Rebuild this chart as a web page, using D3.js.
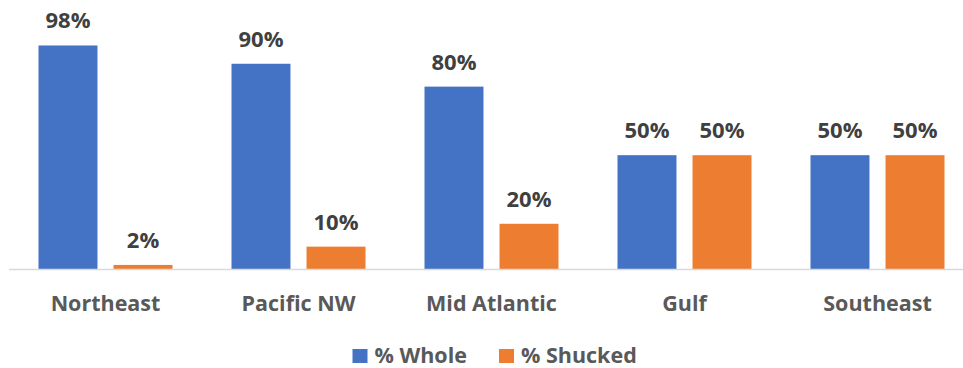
<!DOCTYPE html>
<html lang="en">
<head>
<meta charset="UTF-8">
<title>Whole vs Shucked by Region</title>
<style>
    body{ margin:0; background:#fff; }
    svg{ display:block; }
    .val{ font-family: "Open Sans", Lato, sans-serif; font-weight:bold; font-size:22px; fill:#404040; }
    .cat text{ font-family: "Open Sans", Lato, sans-serif; font-weight:bold; font-size:21.5px; fill:#595959; }
    .legend text{ font-family: "Open Sans", Lato, sans-serif; font-weight:bold; font-size:21.5px; fill:#595959; }
</style>
<script src="https://cdn.jsdelivr.net/npm/d3@7"></script>
</head>
<body>
<script>
    const regions = ["Northeast", "Pacific NW", "Mid Atlantic", "Gulf", "Southeast"];
    const seriesNames = ["% Whole", "% Shucked"];
    const whole = [98, 90, 80, 50, 50];
    const shucked = [2, 10, 20, 50, 50];
    const colors = ["#4472C4", "#ED7D31"];

    const width = 963, height = 368;
    const baseY = 269.5;

    const svg = d3.select("body").append("svg")
        .attr("width", width).attr("height", height);

    const x = d3.scaleBand().domain(regions).range([9, 974]).paddingInner(0).paddingOuter(0);
    const xs = d3.scaleBand().domain(seriesNames).range([29.5, x.bandwidth() - 29.5]).paddingInner(0.214);
    const y = d3.scaleLinear().domain([0, 100]).range([baseY, baseY - 228.6]);

    const rows = regions.map((r, i) => ({region: r, vals: [whole[i], shucked[i]]}));

    const groups = svg.selectAll("g.grp")
        .data(rows)
        .enter().append("g")
        .attr("class", "grp")
        .attr("transform", d => `translate(${x(d.region)},0)`);

    groups.selectAll("rect")
        .data(d => d.vals.map((v, j) => ({name: seriesNames[j], v, j})))
        .enter().append("rect")
        .attr("x", d => xs(d.name))
        .attr("width", xs.bandwidth())
        .attr("y", d => y(d.v))
        .attr("height", d => y(0) - y(d.v))
        .attr("fill", d => colors[d.j]);

    groups.selectAll("text.val")
        .data(d => d.vals.map((v, j) => ({name: seriesNames[j], v, j})))
        .enter().append("text")
        .attr("class", "val")
        .attr("x", d => xs(d.name) + xs.bandwidth() / 2)
        .attr("y", d => y(d.v) - 17)
        .attr("text-anchor", "middle")
        .text(d => d.v + "%");

    // baseline
    svg.append("line")
        .attr("x1", 9).attr("x2", width)
        .attr("y1", baseY).attr("y2", baseY)
        .attr("stroke", "#d9d9d9").attr("stroke-width", 1.5);

    // category axis
    const xAxis = d3.axisBottom(x).tickSize(0).tickPadding(0);
    svg.append("g")
        .attr("class", "cat")
        .attr("transform", "translate(0,296)")
        .call(xAxis)
        .call(g => g.select(".domain").remove())
        .selectAll("text").attr("dy", "0.71em");

    // legend
    const legendX = [352.5, 499];
    const legend = svg.append("g").attr("class", "legend")
        .selectAll("g")
        .data(seriesNames)
        .enter().append("g")
        .attr("transform", (d, i) => `translate(${legendX[i]},349)`);
    legend.append("rect")
        .attr("width", 15).attr("height", 14)
        .attr("fill", (d, i) => colors[i]);
    legend.append("text")
        .attr("x", 22).attr("y", 14)
        .text(d => d);
</script>
</body>
</html>
